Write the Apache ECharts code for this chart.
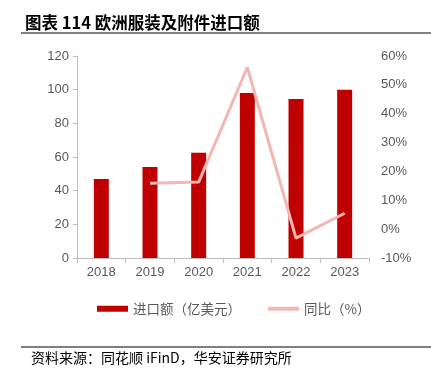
<!DOCTYPE html>
<html>
<head>
<meta charset="utf-8">
<script src="https://cdn.jsdelivr.net/npm/echarts@6/dist/echarts.min.js"></script>
<style>
  html, body { margin: 0; padding: 0; background: #fff; }
  #chart { width: 431px; height: 376px; }
</style>
</head>
<body>
<div id="chart"></div>
<script>
// data
var years = ['2018', '2019', '2020', '2021', '2022', '2023'];
var importValue = [47, 54, 62.5, 98, 94.5, 100];
var yoyPct = [null, 15.9, 16.3, 56.1, -3.1, 5.5];
var leftTicks = [0, 120, 20];
var rightTicks = [-10, 60, 10];

var chart = echarts.init(document.getElementById('chart'));
var cnFont = '"Noto Sans CJK SC", sans-serif';
var numFont = '"Liberation Sans", Arial, sans-serif';

chart.setOption({
    animation: false,
    title: {
        text: '图表 114 欧洲服装及附件进口额',
        left: 20,
        top: 9,
        textStyle: { fontSize: 16.5, fontWeight: 'bold', color: '#000', fontFamily: cnFont }
    },
    graphic: {
        elements: [
            // rules under the title and above the source line
            { type: 'rect', z: 100, left: 21, top: 32, shape: { x: 0, y: 0, width: 410, height: 2 }, style: { fill: '#7f7f7f' } },
            { type: 'rect', z: 100, left: 21, top: 346, shape: { x: 0, y: 0, width: 410, height: 2 }, style: { fill: '#7f7f7f' } },
            { type: 'text', z: 100, left: 31, top: 351, style: { text: '资料来源：同花顺 iFinD，华安证券研究所', font: '14px ' + cnFont, fill: '#000' } }
        ]
    },
    legend: {
        top: 297,
        left: 92,
        itemGap: 27,
        itemWidth: 31,
        itemHeight: 6,
        textStyle: { fontSize: 13.5, color: '#595959', fontFamily: cnFont, padding: [0, 0, 0, 0] },
        data: [
            { name: '进口额（亿美元）', icon: 'rect' },
            { name: '同比（%）', icon: 'path://M0,0 L32,0 L32,4 L0,4 Z' }
        ]
    },
    grid: { left: 77, right: 62, top: 56, bottom: 118 },
    xAxis: {
        type: 'category',
        data: years,
        axisLine: { lineStyle: { color: '#bfbfbf' } },
        axisTick: { show: true, length: 5, lineStyle: { color: '#bfbfbf' } },
        axisLabel: { fontSize: 13, color: '#595959', fontFamily: numFont, margin: 8 }
    },
    yAxis: [
        {
            type: 'value',
            min: leftTicks[0], max: leftTicks[1], interval: leftTicks[2],
            axisLine: { show: true, lineStyle: { color: '#bfbfbf' } },
            axisTick: { show: true, length: 4, lineStyle: { color: '#bfbfbf' } },
            splitLine: { show: false },
            axisLabel: { fontSize: 13, color: '#595959', fontFamily: numFont, margin: 8 }
        },
        {
            type: 'value',
            min: rightTicks[0], max: rightTicks[1], interval: rightTicks[2],
            axisLine: { show: false },
            axisTick: { show: false },
            splitLine: { show: false },
            axisLabel: { fontSize: 13, color: '#595959', fontFamily: numFont, margin: 12, formatter: '{value}%' }
        }
    ],
    series: [
        {
            name: '进口额（亿美元）',
            type: 'bar',
            data: importValue,
            barWidth: 15,
            itemStyle: { color: '#c00000' }
        },
        {
            name: '同比（%）',
            type: 'line',
            yAxisIndex: 1,
            data: yoyPct,
            showSymbol: false,
            symbol: 'none',
            lineStyle: { color: '#f4b6b2', width: 3 },
            itemStyle: { color: '#f4b6b2' }
        }
    ]
});
</script>
</body>
</html>
